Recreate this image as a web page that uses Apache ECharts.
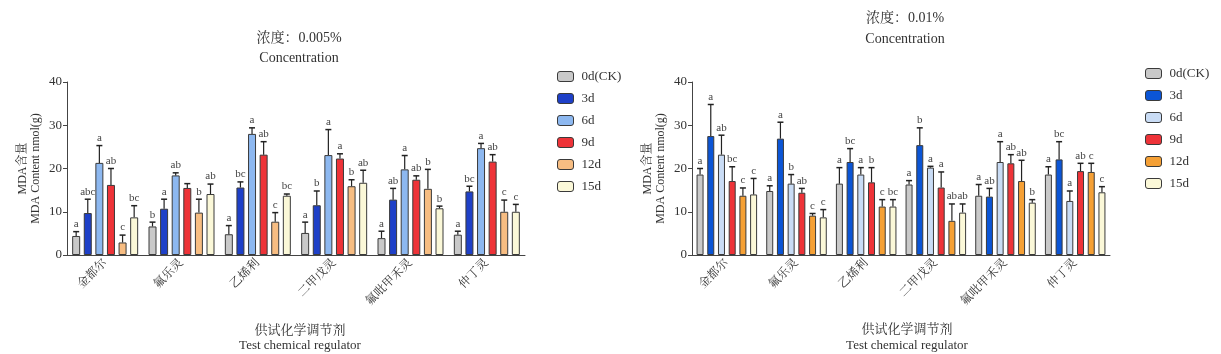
<!DOCTYPE html>
<html><head><meta charset="utf-8">
<script src="https://cdn.jsdelivr.net/npm/echarts@6/dist/echarts.min.js"></script>
<style>html,body{margin:0;padding:0;background:#fff}#c{width:1221px;height:354px}</style>
</head><body><div id="c"></div>
<script>
const categories = ['金都尔','氟乐灵','乙烯利','二甲戊灵','氟吡甲禾灵','仲丁灵'];
const periods = ['0d(CK)','3d','6d','9d','12d','15d'];

// Concentration 0.005% : means, upper error tops, letters (per period, per category)
const left_CK  = [4.4, 6.6, 4.8, 5.1, 3.9, 4.7];
const left_3d  = [9.7, 10.7, 15.6, 11.5, 12.8, 14.7];
const left_6d  = [21.3, 18.4, 28.0, 23.1, 19.8, 24.7];
const left_9d  = [16.2, 15.5, 23.2, 22.3, 17.4, 21.6];
const left_12d = [2.9, 9.8, 7.7, 15.9, 15.3, 10.0];
const left_15d = [8.7, 14.1, 13.7, 16.7, 10.8, 10.0];
const leftErr_CK  = [5.4, 7.6, 6.8, 7.6, 5.5, 5.5];
const leftErr_3d  = [12.9, 12.9, 16.9, 14.8, 15.4, 15.9];
const leftErr_6d  = [25.3, 19.0, 29.4, 29.0, 23.0, 25.8];
const leftErr_9d  = [20.0, 16.5, 26.2, 23.4, 18.3, 23.2];
const leftErr_12d = [4.6, 12.9, 9.8, 17.4, 19.8, 12.7];
const leftErr_15d = [11.4, 16.4, 14.1, 19.6, 11.3, 11.7];
const leftSig_CK  = ['a','b','a','a','a','a'];
const leftSig_3d  = ['abc','a','bc','b','ab','bc'];
const leftSig_6d  = ['a','ab','a','a','a','a'];
const leftSig_9d  = ['ab','','ab','a','ab','ab'];
const leftSig_12d = ['c','b','c','b','b','c'];
const leftSig_15d = ['bc','ab','bc','ab','b','c'];

// Concentration 0.01%
const right_CK  = [18.6, 14.8, 16.5, 16.3, 13.7, 18.6];
const right_3d  = [27.5, 26.9, 21.5, 25.4, 13.5, 22.1];
const right_6d  = [23.2, 16.5, 18.6, 20.2, 21.5, 12.5];
const right_9d  = [17.1, 14.4, 16.8, 15.6, 21.2, 19.4];
const right_12d = [13.7, 9.1, 11.2, 7.9, 17.1, 19.2];
const right_15d = [14.0, 8.7, 11.2, 9.8, 12.1, 14.5];
const rightErr_CK  = [20.0, 16.0, 20.2, 17.2, 16.3, 20.4];
const rightErr_3d  = [34.8, 30.7, 24.6, 29.4, 15.4, 26.2];
const rightErr_6d  = [27.7, 18.6, 20.2, 20.5, 26.2, 14.8];
const rightErr_9d  = [20.4, 15.4, 20.2, 19.2, 23.2, 21.2];
const rightErr_12d = [15.5, 9.6, 12.8, 11.8, 21.9, 21.2];
const rightErr_15d = [17.7, 10.5, 12.8, 11.8, 12.8, 15.8];
const rightSig_CK  = ['a','a','a','a','a','a'];
const rightSig_3d  = ['a','a','bc','b','ab','bc'];
const rightSig_6d  = ['ab','b','a','a','a','a'];
const rightSig_9d  = ['bc','ab','b','a','ab','ab'];
const rightSig_12d = ['c','c','c','ab','ab','c'];
const rightSig_15d = ['c','c','bc','ab','b','c'];

const yTicks = [0, 10, 20, 30, 40];

const leftMeans = [left_CK, left_3d, left_6d, left_9d, left_12d, left_15d];
const leftErrs  = [leftErr_CK, leftErr_3d, leftErr_6d, leftErr_9d, leftErr_12d, leftErr_15d];
const leftSigs  = [leftSig_CK, leftSig_3d, leftSig_6d, leftSig_9d, leftSig_12d, leftSig_15d];
const rightMeans = [right_CK, right_3d, right_6d, right_9d, right_12d, right_15d];
const rightErrs  = [rightErr_CK, rightErr_3d, rightErr_6d, rightErr_9d, rightErr_12d, rightErr_15d];
const rightSigs  = [rightSig_CK, rightSig_3d, rightSig_6d, rightSig_9d, rightSig_12d, rightSig_15d];

const leftColors  = ['#c9c9c9','#1e40c8','#8db8f0','#ee3338','#f7bd82','#fbf8d8'];
const rightColors = ['#c9c9c9','#0b55d6','#c9dcf5','#ee3338','#f5a035','#fbf8d8'];

const SERIF = "'Liberation Serif','Noto Serif CJK SC','Noto Sans CJK SC',serif";
const TXT = '#333';

const layouts = [
  {bw: 8, gap: 0.45},
  {bw: 7, gap: 0.53}
];

function makeErr(gi, means, errs, sigs) {
  const data = [];
  for (let s = 0; s < 6; s++) for (let c = 0; c < 6; c++)
    data.push([c, s, means[s][c], errs[s][c], sigs[s][c]]);
  const L = layouts[gi];
  return {
    type: 'custom', xAxisIndex: gi, yAxisIndex: gi, z: 5, silent: true,
    encode: {x: 0, y: 3},
    data: data,
    renderItem: function (params, api) {
      const c = api.value(0), s = api.value(1);
      const m = api.value(2), e = api.value(3);
      const sig = data[params.dataIndex][4];
      const n = 6, w = L.bw, g = L.gap * w;
      const total = n * w + (n - 1) * g;
      const off = -total / 2 + s * (w + g) + w / 2;
      const pm = api.coord([c, m]);
      const pe = api.coord([c, e]);
      const x = pm[0] + off;
      const cap = 3;
      return {
        type: 'group',
        children: [
          {type: 'line', shape: {x1: x, y1: pm[1], x2: x, y2: pe[1]}, style: {stroke: '#222', lineWidth: 1.2}},
          {type: 'line', shape: {x1: x - cap, y1: pe[1], x2: x + cap, y2: pe[1]}, style: {stroke: '#222', lineWidth: 1.5}},
          {type: 'text', style: {text: sig, x: x, y: pe[1] - 2, textAlign: 'center', textVerticalAlign: 'bottom',
            fontFamily: SERIF, fontSize: 11, fill: '#444'}}
        ]
      };
    }
  };
}

const series = [];
[[leftMeans, leftColors], [rightMeans, rightColors]].forEach(function (pair, gi) {
  const L = layouts[gi];
  pair[0].forEach(function (arr, s) {
    series.push({
      type: 'bar', name: periods[s], xAxisIndex: gi, yAxisIndex: gi,
      data: arr, barWidth: L.bw, barGap: (L.gap * 100) + '%',
      itemStyle: {color: pair[1][s], borderColor: '#3a3a3a', borderWidth: 1},
      emphasis: {disabled: true}
    });
  });
});
series.push(makeErr(0, leftMeans, leftErrs, leftSigs));
series.push(makeErr(1, rightMeans, rightErrs, rightSigs));

function xAxis(gi) {
  return {
    type: 'category', gridIndex: gi, data: categories,
    axisLine: {lineStyle: {color: '#444', width: 1}},
    axisTick: {alignWithLabel: true, length: 3, lineStyle: {color: '#444'}},
    axisLabel: {rotate: 45, fontFamily: SERIF, fontSize: 12, color: TXT, margin: 6}
  };
}
function yAxis(gi) {
  return {
    type: 'value', gridIndex: gi, min: yTicks[0], max: yTicks[yTicks.length - 1], interval: 10,
    name: 'MDA含量\nMDA Content nmol(g)', nameLocation: 'middle', nameGap: 25, nameRotate: 90,
    nameTextStyle: {fontFamily: SERIF, fontSize: 12, color: TXT, lineHeight: 13},
    axisLine: {show: true, lineStyle: {color: '#444', width: 1}},
    axisTick: {show: true, length: 4, lineStyle: {color: '#444'}},
    splitLine: {show: false},
    axisLabel: {fontFamily: SERIF, fontSize: 13, color: TXT, margin: 5}
  };
}
function legend(left, top, colors) {
  return {
    left: left, top: top, orient: 'vertical', itemWidth: 16, itemHeight: 10, itemGap: 9,
    padding: 0, selectedMode: false,
    textStyle: {fontFamily: SERIF, fontSize: 13, color: TXT, padding: [0, 0, 0, 3]},
    data: periods.map(function (p, i) {
      return {name: p, itemStyle: {color: colors[i], borderColor: '#3a3a3a', borderWidth: 1}};
    })
  };
}
function title(x, top, text, lh, fs) {
  return {text: text, left: x, top: top, textAlign: 'center',
    textStyle: {fontFamily: SERIF, fontSize: fs, fontWeight: 'normal', color: TXT, lineHeight: lh}};
}

const option = {
  animation: false,
  backgroundColor: '#fff',
  title: [
    title(294, 23, '浓度：0.005%\nConcentration', 20, 14),
    title(900, 3, '浓度：0.01%\nConcentration', 21, 14),
    title(295, 318, '供试化学调节剂\nTest chemical regulator', 15, 13),
    title(902, 317, '供试化学调节剂\nTest chemical regulator', 16, 13)
  ],
  legend: [legend(557, 70, leftColors), legend(1145, 67, rightColors)],
  grid: [
    {left: 67, right: 696, top: 82, bottom: 99},
    {left: 692, right: 111, top: 82, bottom: 99}
  ],
  xAxis: [xAxis(0), xAxis(1)],
  yAxis: [yAxis(0), yAxis(1)],
  series: series
};
const chart = echarts.init(document.getElementById('c'), null, {renderer: 'canvas'});
chart.setOption(option);
</script></body></html>
